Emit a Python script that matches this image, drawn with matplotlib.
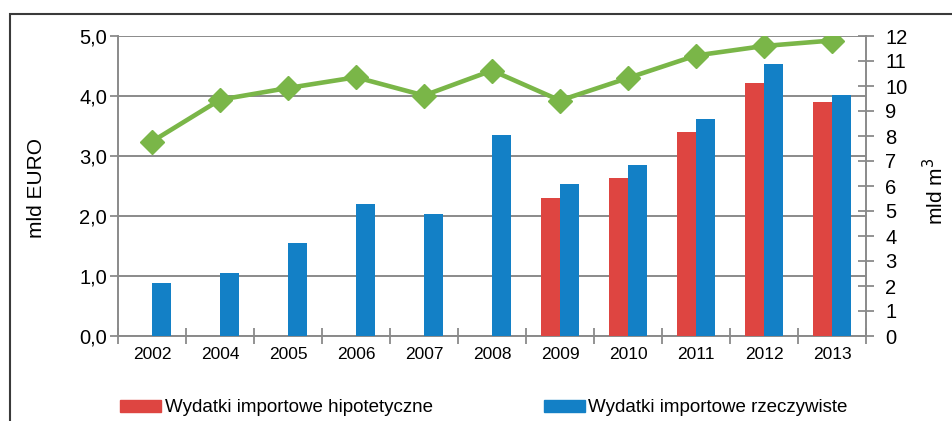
import numpy as np
import matplotlib
matplotlib.use("Agg")
from matplotlib import pyplot as plt
from matplotlib.patches import Patch, Rectangle

years = ["2002", "2004", "2005", "2006", "2007", "2008", "2009", "2010", "2011", "2012", "2013"]
hipotetyczne = [np.nan, np.nan, np.nan, np.nan, np.nan, np.nan, 2.30, 2.63, 3.40, 4.21, 3.90]
rzeczywiste = [0.88, 1.05, 1.55, 2.20, 2.03, 3.35, 2.53, 2.85, 3.62, 4.53, 4.02]
wolumen = [7.78, 9.45, 9.92, 10.35, 9.62, 10.62, 9.42, 10.32, 11.22, 11.6, 11.82]

red = "#DE4541"
blue = "#1380C6"
green = "#7AB648"
grid_col = "#8a8a8a"

plt.rcParams["font.family"] = ["Liberation Sans", "DejaVu Sans"]

fig = plt.figure(figsize=(9.52, 4.21), dpi=100)
ax = fig.add_axes([118 / 952, 85 / 421, 748 / 952, 300 / 421])
ax2 = ax.twinx()

x = np.arange(len(years))
w = 0.28
ax.bar(x - w / 2, hipotetyczne, w, color=red, zorder=3)
ax.bar(x + w / 2, rzeczywiste, w, color=blue, zorder=3)

ax2.plot(x, wolumen, color=green, lw=3.3, marker="D", markersize=12, zorder=4)

ax.set_xlim(-0.5, len(years) - 0.5)
ax.set_ylim(0, 5)
ax2.set_ylim(0, 12)
ax.set_yticks(np.arange(0, 5.01, 1))
ax.set_yticklabels([f"{v:.1f}".replace(".", ",") for v in np.arange(0, 5.01, 1)])
ax2.set_yticks(range(0, 13))

ax.set_xticks(x)
ax.set_xticklabels(years)
ax.set_xticks(np.arange(-0.5, len(years), 1), minor=True)
ax.tick_params(axis="x", which="major", length=0, pad=8, labelsize=12.5)
ax.tick_params(axis="x", which="minor", direction="inout", length=11, width=1.3, color=grid_col)
ax.tick_params(axis="y", length=6, width=1.3, color=grid_col, pad=2, labelsize=14.5)
ax2.tick_params(axis="y", direction="inout", length=11, width=1.3, color=grid_col, pad=8.5, labelsize=14.5)

ax.grid(axis="y", color=grid_col, lw=1.4, zorder=0)
ax.set_axisbelow(True)
for a in (ax, ax2):
    for s in a.spines.values():
        s.set_visible(False)
ax.spines["left"].set_visible(True)
ax.spines["left"].set_color(grid_col)
ax.spines["left"].set_linewidth(1.4)
ax.spines["bottom"].set_visible(True)
ax.spines["bottom"].set_color(grid_col)
ax.spines["bottom"].set_linewidth(1.4)
ax2.spines["right"].set_visible(True)
ax2.spines["right"].set_color(grid_col)
ax2.spines["right"].set_linewidth(1.4)

fig.text(37 / 952, 1 - 188 / 421, "mld EURO", rotation=90, ha="center", va="center", fontsize=15)
fig.text(935 / 952, 1 - 191 / 421, "mld m$^3$", rotation=90, ha="center", va="center", fontsize=15)

handles = [Patch(color=red, label="Wydatki importowe hipotetyczne"),
           Patch(color=blue, label="Wydatki importowe rzeczywiste")]
fig.legend(handles=handles, loc="center left", bbox_to_anchor=(103 / 952, 1 - 408 / 421), ncol=2,
           frameon=False, fontsize=13.5, handlelength=2.2, handleheight=0.65, handletextpad=0.2,
           columnspacing=5.9)

fig.patches.append(Rectangle((10 / 952, -0.2), 1.2, 1.2 - 14 / 421, transform=fig.transFigure,
                             fill=False, edgecolor="#3a3a3a", lw=1.5, clip_on=False))

fig.savefig("out.png", dpi=100)
